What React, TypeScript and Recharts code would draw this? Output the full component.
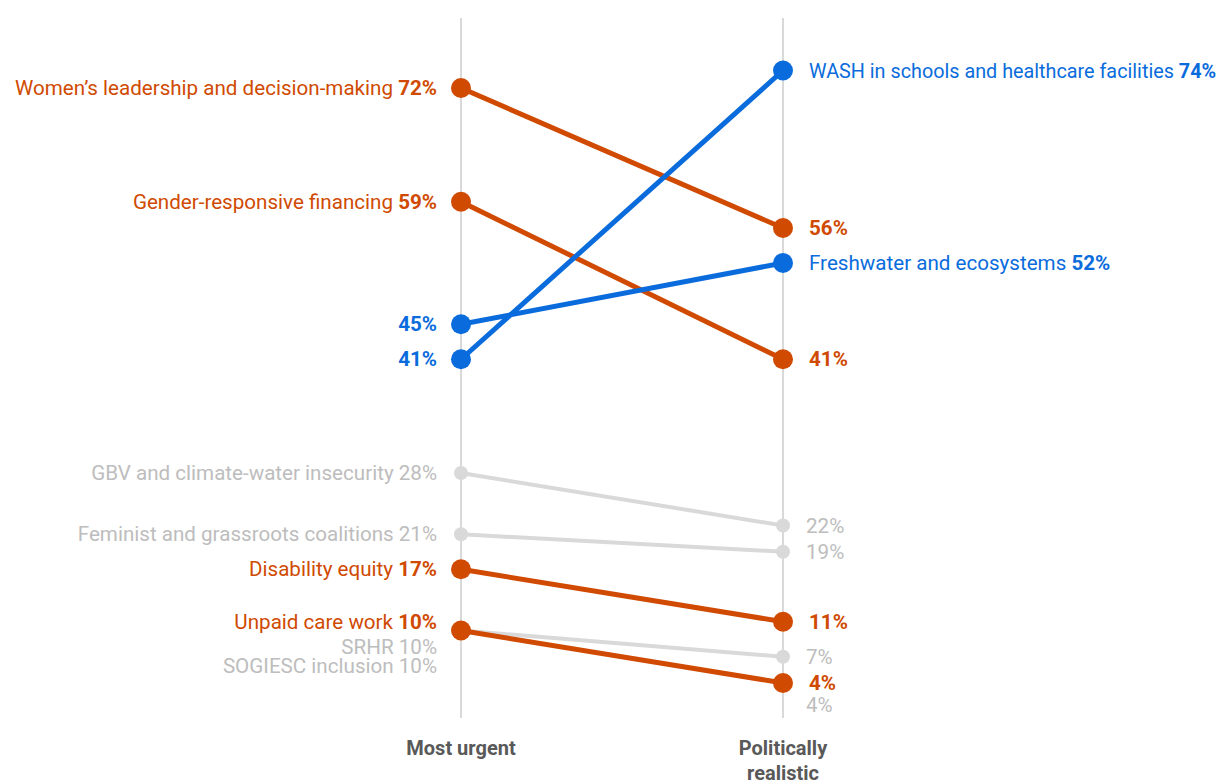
import { LineChart, Line, XAxis, YAxis, CartesianGrid } from "recharts";

// stages on the x axis
const stages = ["Most urgent", "Politically realistic"];

// one entry per priority (% of respondents)
const priorities = [
  "GBV and climate-water insecurity",
  "Feminist and grassroots coalitions",
  "SRHR",
  "SOGIESC inclusion",
  "Women’s leadership and decision-making",
  "Gender-responsive financing",
  "Disability equity",
  "Unpaid care work",
  "WASH in schools and healthcare facilities",
  "Freshwater and ecosystems",
];
const mostUrgent = [28, 21, 10, 10, 72, 59, 17, 10, 41, 45];
const politicallyRealistic = [22, 19, 7, 4, 56, 41, 11, 4, 74, 52];
const groups = ["grey", "grey", "grey", "grey", "orange", "orange", "orange", "orange", "blue", "blue"];

const COLORS: Record<string, string> = {
  grey: "#D9D9D9",
  orange: "#D04A02",
  blue: "#0A6CDC",
};
const GREY_TEXT = "#BDBDBD";
const FONT = "Roboto, 'Noto Sans', sans-serif";

// small nudges so stacked labels don't collide (px)
const leftNudge: Record<number, number> = { 2: 16, 3: 35, 7: -9 };
const rightNudge: Record<number, number> = { 3: 22 };

const chartData = stages.map((stage, i) => {
  const row: Record<string, number | string> = { x: i, stage };
  priorities.forEach((_, s) => {
    row["s" + s] = i === 0 ? mostUrgent[s] : politicallyRealistic[s];
  });
  return row;
});

const renderDot = (s: number) => (props: any) => {
  const { cx, cy, index } = props;
  const group = groups[s];
  const color = COLORS[group];
  const value = index === 0 ? mostUrgent[s] : politicallyRealistic[s];
  const r = group === "grey" ? 7 : 10;
  const isLeft = index === 0;
  const textColor = group === "grey" ? GREY_TEXT : color;
  const dy = isLeft ? leftNudge[s] || 0 : rightNudge[s] || 0;
  const showName = group === "grey" ? isLeft : group === "orange" ? isLeft : !isLeft;
  const boldValue = group !== "grey";
  const tx = isLeft ? cx - 24 : cx + (group === "grey" ? 23 : 26);
  // the long right-hand blue label has to fit inside the page
  const size = !isLeft && s === 8 ? 19.8 : 20.6;

  return (
    <g key={`dot-${s}-${index}`}>
      <circle cx={cx} cy={cy} r={r} fill={color} />
      <text
        x={tx}
        y={cy + dy}
        textAnchor={isLeft ? "end" : "start"}
        dominantBaseline="central"
        fontFamily={FONT}
        fontSize={size}
        fill={textColor}
      >
        {showName && <tspan>{priorities[s] + " "}</tspan>}
        <tspan fontWeight={boldValue ? 700 : 400}>{value}%</tspan>
      </text>
    </g>
  );
};

const StageTick = (props: any) => {
  const { x, y, payload } = props;
  const label = stages[payload.value];
  const lines = label === "Politically realistic" ? ["Politically", "realistic"] : [label];
  return (
    <text
      x={x}
      y={y + 29}
      textAnchor="middle"
      fontFamily={FONT}
      fontSize={20}
      fontWeight={700}
      fill="#595959"
    >
      {lines.map((l, i) => (
        <tspan key={l} x={x} dy={i === 0 ? 0 : 25}>
          {l}
        </tspan>
      ))}
    </text>
  );
};

const order = [0, 1, 2, 3, 4, 5, 6, 7, 8, 9];

export default function App() {
  return (
    <div style={{ width: 1216, height: 776 }}>
      <LineChart
        width={1216}
        height={776}
        data={chartData}
        margin={{ top: 10, right: 441, bottom: 0, left: 453 }}
        style={{ overflow: "visible" }}
      >
        <CartesianGrid horizontal={false} stroke="#D9D9D9" strokeWidth={2} />
        <XAxis
          type="number"
          dataKey="x"
          domain={[0, 1]}
          ticks={[0, 1]}
          axisLine={false}
          tickLine={false}
          height={66}
          tick={<StageTick />}
        />
        <YAxis type="number" domain={[0, 80]} hide />
        {order.map((s) => (
          <Line
            key={s}
            dataKey={"s" + s}
            stroke={COLORS[groups[s]]}
            strokeWidth={groups[s] === "grey" ? 4 : 5}
            dot={renderDot(s)}
            activeDot={false}
            isAnimationActive={false}
          />
        ))}
      </LineChart>
    </div>
  );
}
